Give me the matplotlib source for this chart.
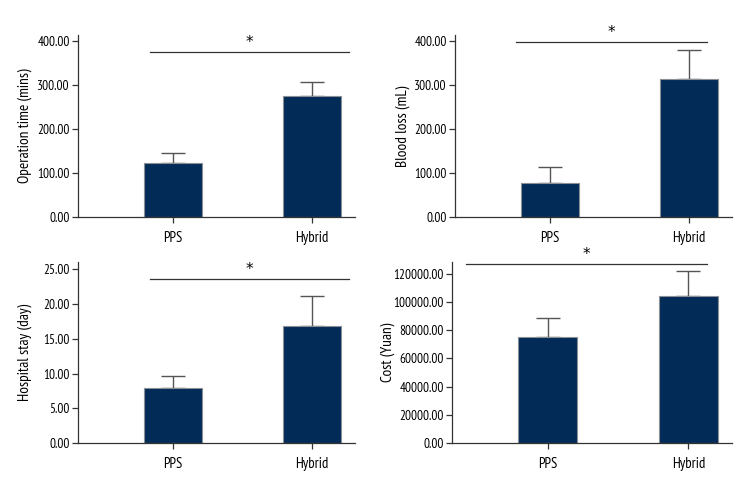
import matplotlib
matplotlib.use('Agg')
import matplotlib.pyplot as plt
from matplotlib.ticker import FormatStrFormatter

plt.rcParams['font.family'] = ['PT Sans Narrow', 'DejaVu Sans']

groups = ['PPS', 'Hybrid']

op_time = [123, 275]
op_time_err = [23, 31]
blood_loss = [76, 314]
blood_loss_err = [37, 66]
hospital_stay = [7.96, 16.8]
hospital_stay_err = [1.72, 4.3]
cost = [75400, 104000]
cost_err = [13000, 17700]

panels = [
    # values, errors, ylabel, ymax, yticks, sig line y, sig line x-span, axes rect, label x
    (op_time, op_time_err, 'Operation time (mins)', 414, [0, 100, 200, 300, 400],
     375, (-0.165, 1.266), [0.1032, 0.5631, 0.3664, 0.3663], -0.165),
    (blood_loss, blood_loss_err, 'Blood loss (mL)', 414, [0, 100, 200, 300, 400],
     398, (-0.24, 1.13), [0.6022, 0.5631, 0.3661, 0.3663], -0.165),
    (hospital_stay, hospital_stay_err, 'Hospital stay (day)', 26, [0, 5, 10, 15, 20, 25],
     23.5, (-0.165, 1.266), [0.1032, 0.1063, 0.3664, 0.3655], -0.165),
    (cost, cost_err, 'Cost (Yuan)', 128300, [0, 20000, 40000, 60000, 80000, 100000, 120000],
     127000, (-0.58, 1.13), [0.5979, 0.1063, 0.3704, 0.3655], -0.205),
]

fig = plt.figure(figsize=(7.56, 4.96), dpi=100)
bar_color = '#022b57'
line_color = '#333333'

for vals, errs, ylabel, ymax, yticks, sig_y, sig_x, rect, lab_x in panels:
    ax = fig.add_axes(rect)
    x = range(len(groups))
    ax.bar(x, vals, width=0.417, color=bar_color, edgecolor='#8a8f96', linewidth=0.8, zorder=2)
    ax.errorbar(x, vals, yerr=[[0, 0], errs], fmt='none', ecolor='#555555',
                elinewidth=1.0, capsize=8.5, capthick=1.0, zorder=1)
    ax.set_ylim(0, ymax)
    ax.set_xlim(-0.68, 1.31)
    ax.set_yticks(yticks)
    ax.yaxis.set_major_formatter(FormatStrFormatter('%.2f'))
    ax.set_xticks(list(x))
    ax.set_xticklabels(groups)
    ax.set_ylabel(ylabel, fontsize=11)
    ax.yaxis.set_label_coords(lab_x, 0.5)
    for s in ['top', 'right']:
        ax.spines[s].set_visible(False)
    for s in ['left', 'bottom']:
        ax.spines[s].set_color(line_color)
        ax.spines[s].set_linewidth(0.9)
    ax.tick_params(axis='both', direction='out', length=4, width=0.9,
                   color=line_color, labelsize=9.5, pad=2)
    ax.tick_params(axis='x', pad=6, labelsize=10.5)
    ax.plot(sig_x, [sig_y, sig_y], color=line_color, linewidth=0.9, clip_on=False)
    ax.annotate('*', ((sig_x[0] + sig_x[1]) / 2, sig_y), xytext=(0, 7),
                textcoords='offset points', ha='center', va='center',
                fontsize=11, family='DejaVu Sans', annotation_clip=False)

fig.savefig('out.png', dpi=100)
